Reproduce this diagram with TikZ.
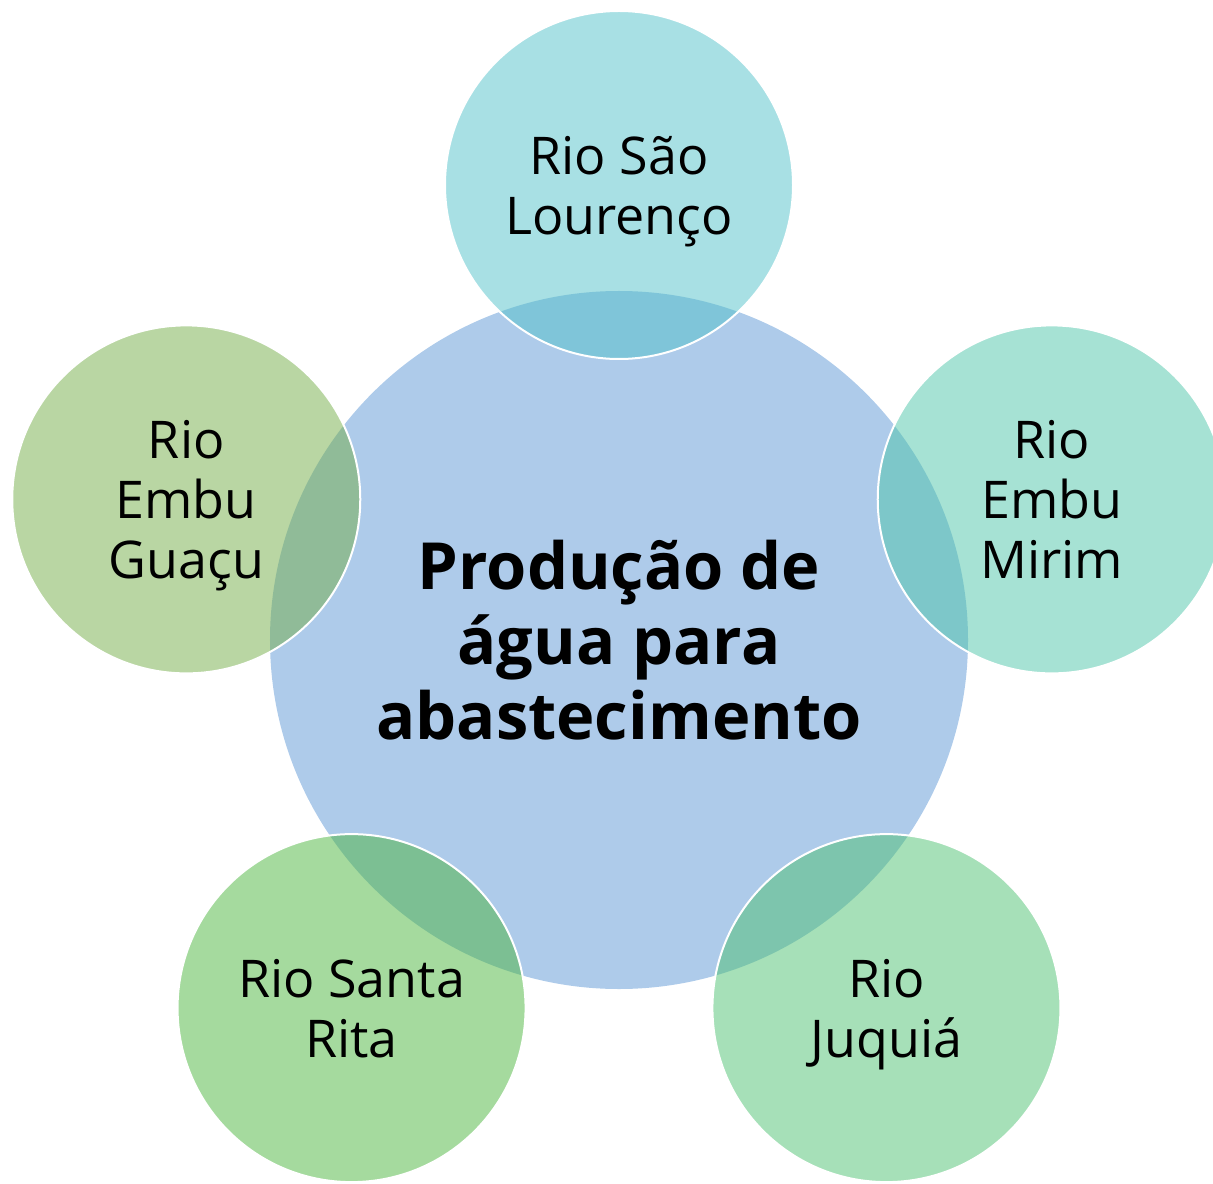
\documentclass[tikz,border=0pt]{standalone}
\usepackage{fontspec}
\setmainfont{Open Sans}
\usepackage{tikz}
\definecolor{hubblue}{RGB}{174,203,234}
\definecolor{topcyan}{RGB}{81,193,201}
\definecolor{rightteal}{RGB}{77,197,169}
\definecolor{leftolive}{RGB}{115,173,71}
\definecolor{lowleftgreen}{RGB}{75,181,61}
\definecolor{lowrightgreen}{RGB}{77,193,113}

\begin{document}
\begin{tikzpicture}[x=0.5pt,y=0.5pt,hub node/.style={circle,fill=hubblue,inner sep=0pt,minimum size=349pt,align=center,font=\fontsize{32.5}{37.5}\selectfont\bfseries},river node/.style={circle,draw=white,line width=1pt,fill opacity=0.5,text opacity=1,inner sep=0pt,text depth=0pt,minimum size=174pt,align=center,font=\fontsize{26}{30}\selectfont}]
	\useasboundingbox (-619,-543) rectangle (594,640);

	\node[hub node] (hub) at (0,0) {Produção de\\água para\\abastecimento};

	\node[river node,fill=topcyan] (saolourenco) at (90:455) {Rio São\\Lourenço};
	\node[river node,fill=rightteal] (embumirim) at (18:455) {Rio\\Embu\\Mirim};
	\node[river node,fill=lowrightgreen] (juquia) at (-54:455) {Rio\\Juquiá};
	\node[river node,fill=lowleftgreen] (santarita) at (-126:455) {Rio Santa\\Rita};
	\node[river node,fill=leftolive] (embuguacu) at (162:455) {Rio\\Embu\\Guaçu};
\end{tikzpicture}
\end{document}
